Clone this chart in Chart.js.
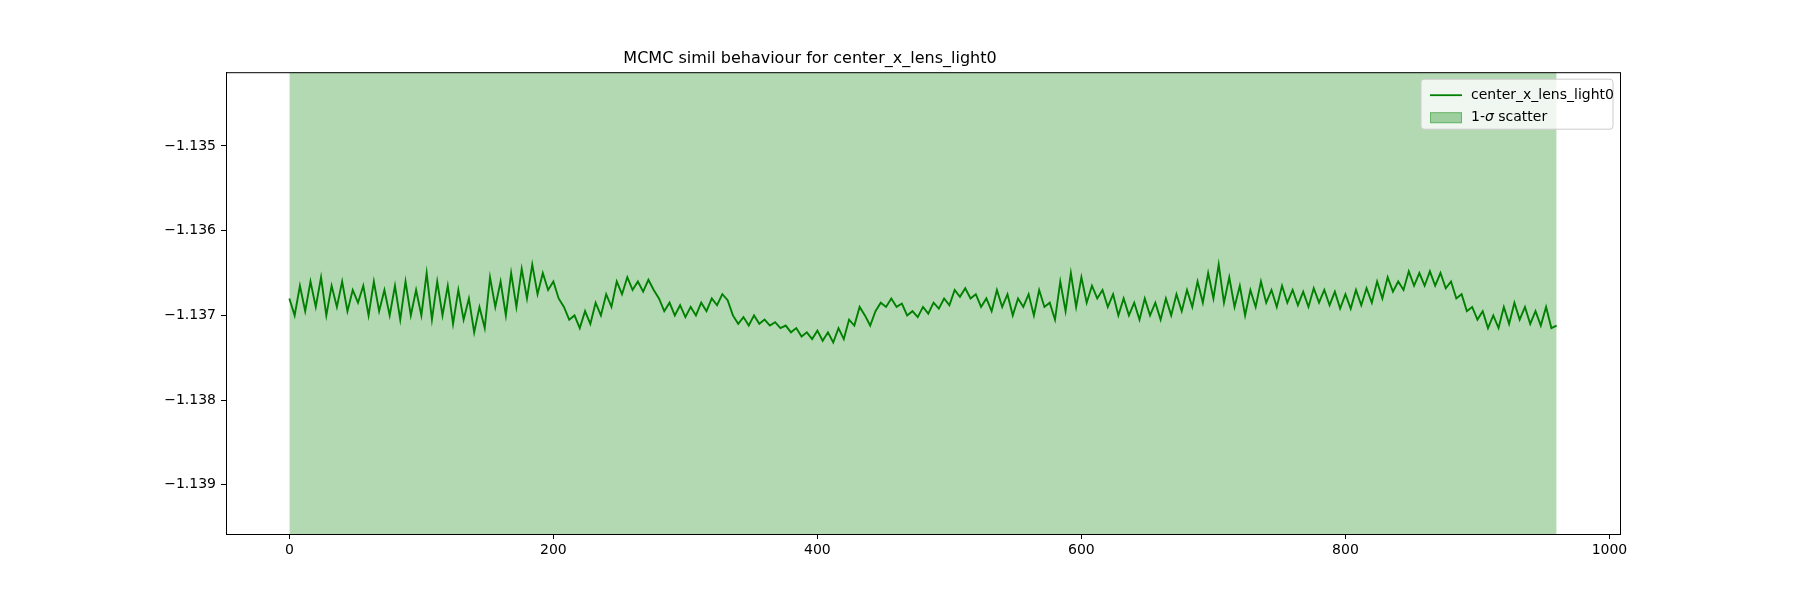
<!DOCTYPE html>
<html>
<head>
<meta charset="utf-8">
<script src="https://cdn.jsdelivr.net/npm/chart.js@4"></script>
<style>
  html, body { margin: 0; padding: 0; background: #fff; }
  #wrap { width: 1800px; height: 600px; }
</style>
</head>
<body>
<div id="wrap"><canvas id="mcmcChart"></canvas></div>
<script>
"use strict"

const paramName = 'center_x_lens_light0'
const stepSize = 4
const chainValues = [
  -1.13680,-1.13700,-1.13665,-1.13695,-1.13660,-1.13690,-1.13655,-1.13700,-1.13665,-1.13690,
  -1.13660,-1.13695,-1.13670,-1.13685,-1.13665,-1.13700,-1.13660,-1.13695,-1.13670,-1.13700,
  -1.13665,-1.13705,-1.13660,-1.13700,-1.13670,-1.13700,-1.13650,-1.13705,-1.13660,-1.13700,
  -1.13665,-1.13710,-1.13670,-1.13705,-1.13680,-1.13720,-1.13690,-1.13715,-1.13655,-1.13690,
  -1.13660,-1.13700,-1.13650,-1.13690,-1.13645,-1.13680,-1.13640,-1.13675,-1.13650,-1.13670,
  -1.13660,-1.13680,-1.13690,-1.13705,-1.13700,-1.13715,-1.13695,-1.13710,-1.13685,-1.13700,
  -1.13675,-1.13690,-1.13660,-1.13675,-1.13655,-1.13670,-1.13660,-1.13672,-1.13658,-1.13670,
  -1.13680,-1.13695,-1.13685,-1.13700,-1.13688,-1.13702,-1.13690,-1.13700,-1.13685,-1.13695,
  -1.13680,-1.13688,-1.13675,-1.13682,-1.13700,-1.13710,-1.13702,-1.13712,-1.13700,-1.13710,
  -1.13705,-1.13712,-1.13708,-1.13715,-1.13712,-1.13720,-1.13715,-1.13725,-1.13720,-1.13728,
  -1.13718,-1.13730,-1.13720,-1.13732,-1.13715,-1.13728,-1.13705,-1.13712,-1.13690,-1.13700,
  -1.13712,-1.13695,-1.13685,-1.13690,-1.13680,-1.13690,-1.13686,-1.13700,-1.13695,-1.13702,
  -1.13690,-1.13698,-1.13685,-1.13692,-1.13680,-1.13688,-1.13670,-1.13678,-1.13668,-1.13680,
  -1.13675,-1.13690,-1.13680,-1.13695,-1.13670,-1.13690,-1.13675,-1.13700,-1.13680,-1.13690,
  -1.13675,-1.13700,-1.13670,-1.13690,-1.13685,-1.13705,-1.13660,-1.13695,-1.13650,-1.13690,
  -1.13655,-1.13685,-1.13665,-1.13680,-1.13670,-1.13690,-1.13675,-1.13700,-1.13680,-1.13700,
  -1.13685,-1.13705,-1.13680,-1.13700,-1.13685,-1.13705,-1.13680,-1.13700,-1.13675,-1.13695,
  -1.13670,-1.13690,-1.13660,-1.13685,-1.13650,-1.13680,-1.13640,-1.13685,-1.13655,-1.13690,
  -1.13665,-1.13700,-1.13670,-1.13690,-1.13660,-1.13685,-1.13670,-1.13690,-1.13665,-1.13685,
  -1.13670,-1.13688,-1.13672,-1.13690,-1.13668,-1.13685,-1.13670,-1.13688,-1.13672,-1.13692,
  -1.13675,-1.13692,-1.13670,-1.13688,-1.13668,-1.13685,-1.13660,-1.13680,-1.13655,-1.13672,
  -1.13660,-1.13670,-1.13648,-1.13665,-1.13650,-1.13665,-1.13648,-1.13665,-1.13650,-1.13668,
  -1.13660,-1.13680,-1.13675,-1.13695,-1.13690,-1.13705,-1.13695,-1.13715,-1.13700,-1.13715,
  -1.13690,-1.13710,-1.13685,-1.13705,-1.13690,-1.13710,-1.13695,-1.13712,-1.13690,-1.13715,
  -1.13712
]
// sigma band edges (wide: covers whole view)
const sigmaUpper = [-1.130, -1.130]
const sigmaLower = [-1.145, -1.145]
const sigmaSteps = [0, 960]
const xTicks = [0, 200, 400, 600, 800, 1000]
const yTicks = [-1.135, -1.136, -1.137, -1.138, -1.139]

let fmtMinus = v => (v < 0 ? '\u2212' : '') + Math.abs(v).toFixed(3)

let framePlugin = {
    id: 'frame',
    afterDatasetsDraw(chart) {
        let {ctx, chartArea: a} = chart
        ctx.save()
        ctx.strokeStyle = '#000'
        ctx.lineWidth = 1
        ctx.strokeRect(a.left + 0.5, a.top + 0.5, a.right - a.left, a.bottom - a.top)
        // legend box, upper right
        let w = 192, h = 50, x = a.right - w - 7, y = a.top + 7
        ctx.fillStyle = 'rgba(255,255,255,0.8)'
        ctx.strokeStyle = '#ccc'
        ctx.beginPath()
        ctx.roundRect(x, y, w, h, 3)
        ctx.fill()
        ctx.stroke()
        ctx.strokeStyle = 'green'
        ctx.lineWidth = 1.8
        ctx.beginPath()
        ctx.moveTo(x + 9, y + 16)
        ctx.lineTo(x + 41, y + 16)
        ctx.stroke()
        ctx.fillStyle = 'rgba(0,128,0,0.35)'
        ctx.fillRect(x + 9, y + 33, 32, 11)
        ctx.strokeStyle = 'rgba(0,128,0,0.35)'
        ctx.lineWidth = 1
        ctx.strokeRect(x + 9.5, y + 33.5, 31, 10)
        ctx.fillStyle = '#000'
        ctx.font = '14px "DejaVu Sans"'
        ctx.textBaseline = 'middle'
        ctx.fillText(paramName, x + 50, y + 16)
        ctx.fillText('1-', x + 50, y + 38)
        let wd = ctx.measureText('1-').width
        ctx.font = 'italic 14px "DejaVu Sans"'
        ctx.fillText('\u03c3', x + 50 + wd, y + 38)
        let ws = ctx.measureText('\u03c3').width
        ctx.font = '14px "DejaVu Sans"'
        ctx.fillText(' scatter', x + 50 + wd + ws, y + 38)
        ctx.restore()
    }
}

let ctx = document.getElementById('mcmcChart').getContext('2d')
let chart = new Chart(ctx, {
    type: 'line',
    data: {
        datasets: [{
            label: '1-sigma upper',
            data: sigmaSteps.map((s, i) => ({x: s, y: sigmaUpper[i]})),
            borderColor: 'rgba(0,128,0,0.3)',
            borderWidth: 1,
            backgroundColor: 'rgba(0,128,0,0.3)',
            pointRadius: 0,
            fill: '+1',
            order: 2
        }, {
            label: '1-sigma lower',
            data: sigmaSteps.map((s, i) => ({x: s, y: sigmaLower[i]})),
            borderColor: 'rgba(0,0,0,0)',
            pointRadius: 0,
            fill: false,
            order: 3
        }, {
            label: paramName,
            data: chainValues.map((v, i) => ({x: i * stepSize, y: v})),
            borderColor: 'green',
            borderWidth: 1.9,
            pointRadius: 0,
            fill: false,
            tension: 0,
            order: 1
        }]
    },
    plugins: [framePlugin],
    options: {
        responsive: true,
        maintainAspectRatio: false,
        animation: false,
        layout: { padding: { left: 0, right: 180, top: 0, bottom: 0 } },
        plugins: {
            legend: { display: false },
            tooltip: { enabled: false },
            title: {
                display: true,
                text: 'MCMC simil behaviour for ' + paramName,
                color: '#000',
                font: { family: 'DejaVu Sans', size: 16, weight: 'normal' },
                padding: { top: 49, bottom: 4 }
            }
        },
        scales: {
            x: {
                type: 'linear',
                min: -48,
                max: 1008,
                afterBuildTicks: s => { s.ticks = xTicks.map(v => ({value: v})) },
                afterFit: s => { s.height = 66 },
                grid: { drawOnChartArea: false, drawTicks: true, tickLength: 5, color: '#000' },
                border: { color: '#000' },
                ticks: { color: '#000', font: { family: 'DejaVu Sans', size: 14 }, padding: 3, maxRotation: 0,
                    callback: v => String(v) }
            },
            y: {
                type: 'linear',
                min: -1.13958,
                max: -1.13413,
                afterBuildTicks: s => { s.ticks = yTicks.map(v => ({value: v})) },
                afterFit: s => { s.width = 226 },
                grid: { drawOnChartArea: false, drawTicks: true, tickLength: 5, color: '#000' },
                border: { color: '#000' },
                ticks: { color: '#000', font: { family: 'DejaVu Sans', size: 14 }, padding: 5,
                    callback: v => fmtMinus(v) }
            }
        }
    }
})
</script>
</body>
</html>
